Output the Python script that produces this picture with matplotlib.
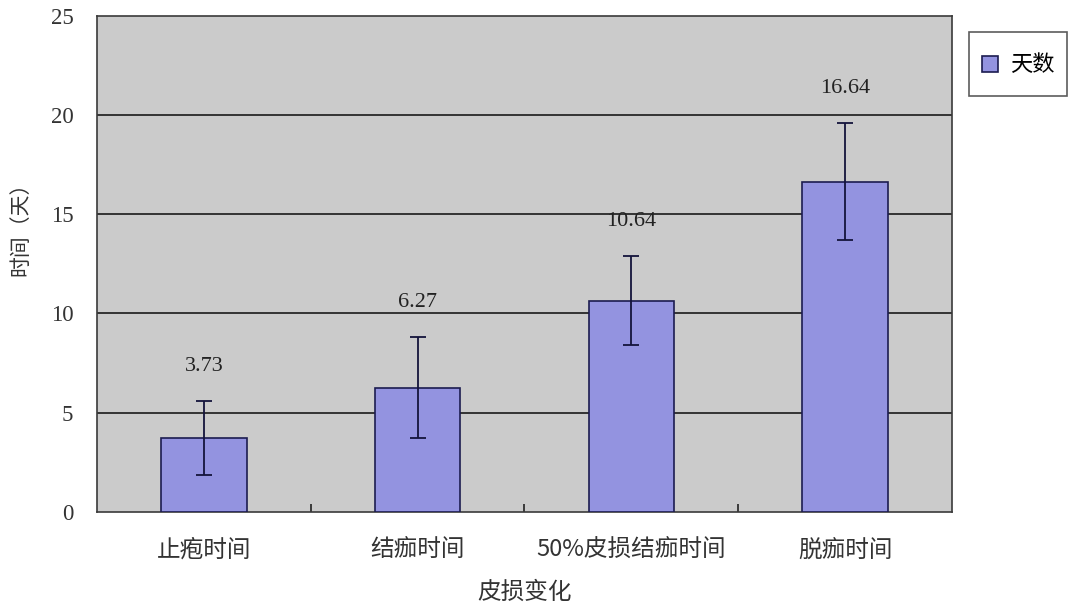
import numpy as np
import matplotlib
matplotlib.use('Agg')
import matplotlib.pyplot as plt
from matplotlib.patches import Rectangle
from matplotlib.legend_handler import HandlerPatch

plt.rcParams['font.family'] = ['Noto Sans CJK SC', 'DejaVu Sans']

# 数据
categories = ['止疱时间', '结痂时间', '50%皮损结痂时间', '脱痂时间']
days = [3.73, 6.27, 10.64, 16.64]
errs = [1.87, 2.55, 2.24, 2.95]
value_labels = ['3.73', '6.27', '10.64', '16.64']
yticks = [0, 5, 10, 15, 20, 25]

bar_color = '#9393e0'
edge_color = '#1c1c50'

fig = plt.figure(figsize=(10.72, 6.08), dpi=100)
ax = fig.add_axes([0.0905, 0.158, 0.7975, 0.816])
ax.set_facecolor('#cbcbcb')

x = np.arange(len(categories))
ax.bar(x, days, width=0.4, color=bar_color, edgecolor=edge_color, linewidth=1.2, zorder=3)
ax.errorbar(x, days, yerr=errs, fmt='none', ecolor='#14143c', elinewidth=1.3,
            capsize=6, capthick=1.3, zorder=4)

for i in range(len(days)):
    ax.annotate(value_labels[i], (x[i], days[i] + errs[i]), xytext=(0, 25),
                textcoords='offset points', ha='center', va='center',
                fontsize=16, family=['Liberation Serif'], color='#222222', zorder=5)

ax.set_ylim(0, 25)
ax.set_xlim(-0.5, len(categories) - 0.5)
ax.set_yticks(yticks)
ax.set_yticklabels([str(v) for v in yticks], family=['Liberation Serif'], fontsize=16.5,
                   color='#333333')
ax.tick_params(axis='y', length=0, pad=17)
for v in yticks[1:-1]:
    ax.axhline(v, color='#1a1a1a', linewidth=1.2, zorder=1)

# 类别分隔刻度
ax.set_xticks(x)
ax.set_xticklabels(categories, fontsize=17, color='#333333')
ax.tick_params(axis='x', length=0, pad=19)
ax.set_xticks(np.arange(0.5, len(categories) - 0.5, 1), minor=True)
ax.tick_params(axis='x', which='minor', direction='in', length=6, width=1.2, color='#222222')

for s in ax.spines.values():
    s.set_color('#3a3a3a')
    s.set_linewidth(1.2)

ax.set_ylabel('时间（天）', fontsize=15, color='#333333')
ax.yaxis.set_label_coords(-0.077, 0.58)
ax.set_xlabel('皮损变化', fontsize=17, color='#333333', labelpad=14)


def small_square(legend, orig_handle, xdescent, ydescent, width, height, fontsize):
    s = 0.75 * fontsize
    return Rectangle((-xdescent + (width - s) / 2, -ydescent + (height - s) / 2), s, s)


proxy = Rectangle((0, 0), 1, 1, facecolor=bar_color, edgecolor=edge_color, linewidth=1.2)
leg = ax.legend(handles=[proxy], labels=['天数'], loc='upper left',
                bbox_to_anchor=(1.02, 0.968), fontsize=16,
                frameon=True, fancybox=False, edgecolor='#333333',
                handlelength=0.8, handleheight=2.4, handletextpad=0.5,
                borderpad=0.55, borderaxespad=0,
                handler_map={Rectangle: HandlerPatch(patch_func=small_square)})
leg.get_frame().set_linewidth(1.2)

fig.savefig('out.png', dpi=100, facecolor='white')
